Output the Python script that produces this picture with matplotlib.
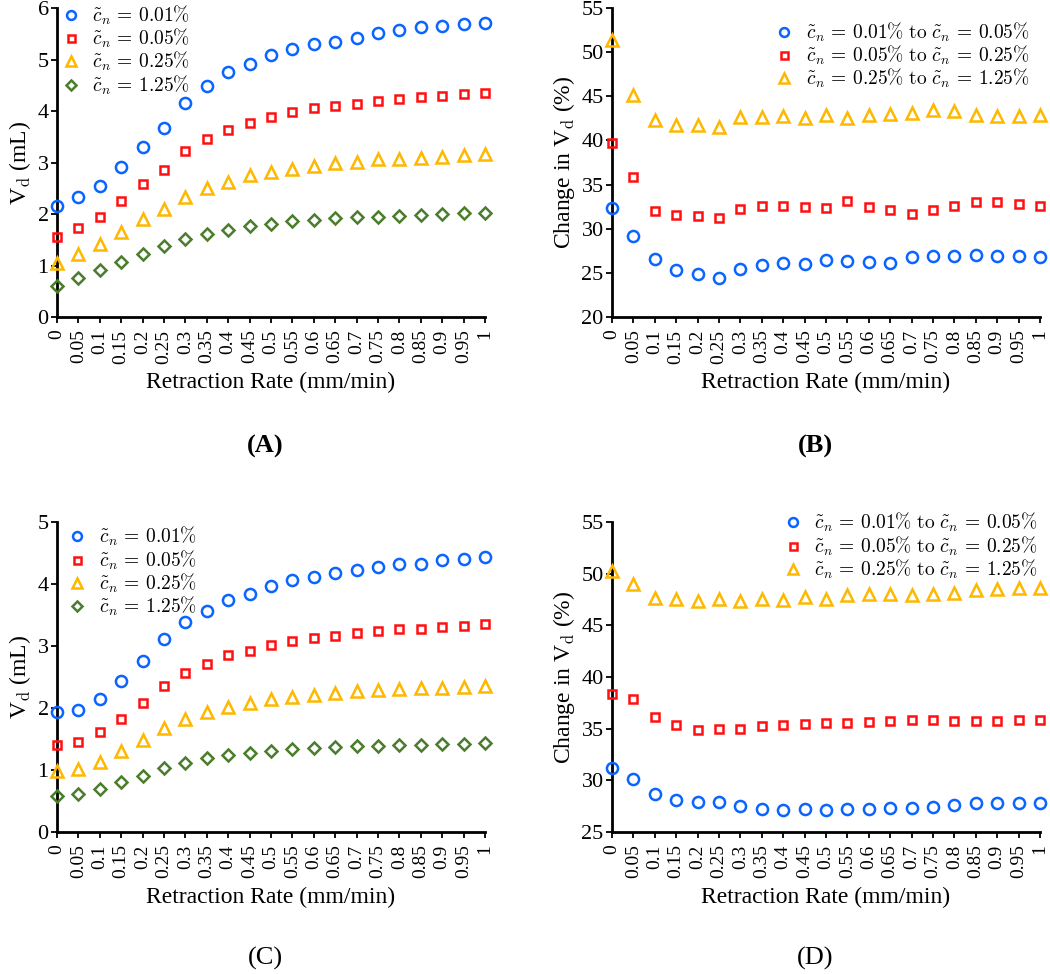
import matplotlib
matplotlib.use("Agg")
import matplotlib.pyplot as plt

plt.rcParams['font.family'] = ['Liberation Serif', 'DejaVu Serif']
plt.rcParams['mathtext.fontset'] = 'cm'

rate = [0, 0.05, 0.1, 0.15, 0.2, 0.25, 0.3, 0.35, 0.4, 0.45, 0.5,
        0.55, 0.6, 0.65, 0.7, 0.75, 0.8, 0.85, 0.9, 0.95, 1]
rate_labels = ['0', '0.05', '0.1', '0.15', '0.2', '0.25', '0.3', '0.35', '0.4', '0.45', '0.5',
               '0.55', '0.6', '0.65', '0.7', '0.75', '0.8', '0.85', '0.9', '0.95', '1']

# Panel A: Vd (mL)
a_001 = [2.16, 2.34, 2.54, 2.91, 3.31, 3.67, 4.16, 4.48, 4.75, 4.91, 5.08,
         5.21, 5.30, 5.35, 5.42, 5.51, 5.57, 5.63, 5.66, 5.69, 5.71]
a_005 = [1.55, 1.73, 1.94, 2.25, 2.58, 2.86, 3.22, 3.45, 3.64, 3.77, 3.88,
         3.99, 4.05, 4.10, 4.13, 4.19, 4.24, 4.28, 4.30, 4.33, 4.35]
a_025 = [1.05, 1.22, 1.42, 1.66, 1.90, 2.10, 2.34, 2.50, 2.63, 2.75, 2.82,
         2.87, 2.94, 2.99, 3.02, 3.06, 3.07, 3.09, 3.11, 3.14, 3.16]
a_125 = [0.61, 0.76, 0.91, 1.07, 1.22, 1.37, 1.51, 1.61, 1.70, 1.77, 1.81,
         1.86, 1.89, 1.92, 1.94, 1.95, 1.97, 1.99, 2.00, 2.02, 2.03]

# Panel B: change in Vd (%)
b_1 = [32.31, 29.14, 26.57, 25.36, 24.83, 24.42, 25.44, 25.85, 26.15, 25.96, 26.46,
       26.30, 26.27, 26.08, 26.76, 26.91, 26.95, 26.98, 26.95, 26.87, 26.83]
b_2 = [39.74, 35.82, 32.04, 31.51, 31.44, 31.21, 32.23, 32.57, 32.57, 32.46, 32.31,
       33.14, 32.42, 32.08, 31.66, 32.12, 32.53, 32.99, 32.99, 32.80, 32.57]
b_3 = [51.41, 45.18, 42.27, 41.74, 41.71, 41.48, 42.61, 42.65, 42.73, 42.50, 42.91,
       42.50, 42.87, 43.02, 43.14, 43.40, 43.29, 42.87, 42.73, 42.80, 42.87]

# Panel C: Vd (mL)
c_001 = [1.93, 1.97, 2.15, 2.44, 2.75, 3.12, 3.38, 3.56, 3.74, 3.84, 3.97,
         4.06, 4.12, 4.17, 4.23, 4.28, 4.32, 4.33, 4.38, 4.40, 4.44]
c_005 = [1.40, 1.45, 1.61, 1.83, 2.08, 2.35, 2.56, 2.71, 2.85, 2.92, 3.02,
         3.08, 3.13, 3.16, 3.21, 3.24, 3.27, 3.28, 3.31, 3.33, 3.35]
c_025 = [0.98, 1.01, 1.13, 1.31, 1.48, 1.68, 1.83, 1.93, 2.02, 2.08, 2.14,
         2.18, 2.21, 2.24, 2.27, 2.29, 2.31, 2.32, 2.33, 2.34, 2.36]
c_125 = [0.58, 0.61, 0.69, 0.80, 0.91, 1.03, 1.12, 1.19, 1.24, 1.27, 1.31,
         1.34, 1.35, 1.37, 1.38, 1.39, 1.40, 1.40, 1.42, 1.42, 1.44]

# Panel D: change in Vd (%)
d_1 = [31.19, 30.16, 28.66, 28.05, 27.92, 27.95, 27.50, 27.24, 27.14, 27.20, 27.17,
       27.24, 27.20, 27.33, 27.30, 27.46, 27.66, 27.79, 27.76, 27.76, 27.76]
d_2 = [38.39, 37.84, 36.15, 35.31, 34.86, 34.95, 34.92, 35.25, 35.31, 35.41, 35.57,
       35.57, 35.64, 35.77, 35.86, 35.83, 35.70, 35.73, 35.73, 35.80, 35.80]
d_3 = [50.26, 49.00, 47.67, 47.50, 47.34, 47.50, 47.37, 47.54, 47.44, 47.70, 47.57,
       47.89, 48.02, 48.02, 47.92, 48.02, 48.15, 48.41, 48.54, 48.61, 48.61]

labels_conc = [r'$\tilde{c}_n\,=\,0.01\%$', r'$\tilde{c}_n\,=\,0.05\%$',
               r'$\tilde{c}_n\,=\,0.25\%$', r'$\tilde{c}_n\,=\,1.25\%$']
labels_change = [r'$\tilde{c}_n\,=\,0.01\%\ \mathrm{to}\ \tilde{c}_n\,=\,0.05\%$',
                 r'$\tilde{c}_n\,=\,0.05\%\ \mathrm{to}\ \tilde{c}_n\,=\,0.25\%$',
                 r'$\tilde{c}_n\,=\,0.25\%\ \mathrm{to}\ \tilde{c}_n\,=\,1.25\%$']

BLUE = '#0a64ff'
RED = '#ff1010'
YEL = '#ffb800'
GRN = '#4a7d2c'
styles = [dict(marker='o', color=BLUE, ms=8.0),
          dict(marker='s', color=RED, ms=6.3),
          dict(marker='^', color=YEL, ms=9.0),
          dict(marker='D', color=GRN, ms=6.6)]

fig = plt.figure(figsize=(10.5, 9.74), dpi=100)

def style_axes(ax, ylim, yticks, ylabel):
    ax.set_xlim(0, 1)
    ax.set_ylim(*ylim)
    ax.set_xticks(rate)
    ax.set_xticklabels(rate_labels, rotation=90, fontsize=14)
    ax.set_yticks(yticks)
    ax.tick_params(axis='y', labelsize=16, direction='out', length=4, width=1.3, pad=2)
    ax.tick_params(axis='x', direction='out', length=4, width=1.3, pad=5)
    for s in ['top', 'right']:
        ax.spines[s].set_visible(False)
    for s in ['left', 'bottom']:
        ax.spines[s].set_linewidth(2.0)
        ax.spines[s].set_zorder(0.5)
    ax.set_xlabel('Retraction Rate (mm/min)', fontsize=17, labelpad=6)
    ax.set_ylabel(ylabel, fontsize=17, labelpad=3)

def draw(ax, series, labels):
    for ys, lab, st in zip(series, labels, styles):
        ax.plot(rate, ys, linestyle='none', marker=st['marker'], ms=st['ms'],
                markerfacecolor='none', markeredgecolor=st['color'],
                markeredgewidth=1.8, label=lab, clip_on=False, zorder=3)

leg_kw = dict(frameon=False, fontsize=14, handlelength=1.0, handletextpad=0.6,
              labelspacing=0.0, borderaxespad=0.0, borderpad=0.0, markerscale=0.8)

axA = fig.add_axes([0.0543, 0.6745, 0.4076, 0.3172])
draw(axA, [a_001, a_005, a_025, a_125], labels_conc)
style_axes(axA, (0, 6), range(0, 7), r'V$_\mathrm{d}$ (mL)')
axA.legend(loc='upper left', bbox_to_anchor=(0.01, 1.015), **leg_kw)

axB = fig.add_axes([0.5829, 0.6745, 0.4076, 0.3172])
draw(axB, [b_1, b_2, b_3], labels_change)
style_axes(axB, (20, 55), range(20, 56, 5), r'Change in V$_\mathrm{d}$ (%)')
axB.legend(loc='upper right', bbox_to_anchor=(0.975, 0.96), **leg_kw)

axC = fig.add_axes([0.0543, 0.1458, 0.4076, 0.3183])
draw(axC, [c_001, c_005, c_025, c_125], labels_conc)
style_axes(axC, (0, 5), range(0, 6), r'V$_\mathrm{d}$ (mL)')
axC.legend(loc='upper left', bbox_to_anchor=(0.025, 0.99), **leg_kw)

axD = fig.add_axes([0.5829, 0.1458, 0.4076, 0.3183])
draw(axD, [d_1, d_2, d_3], labels_change)
style_axes(axD, (25, 55), range(25, 56, 5), r'Change in V$_\mathrm{d}$ (%)')
axD.legend(loc='upper right', bbox_to_anchor=(0.995, 1.035), **leg_kw)

fig.text(265 / 1050, 1 - 446 / 974, '(A)', ha='center', va='center', fontsize=19, fontweight='bold')
fig.text(815 / 1050, 1 - 446 / 974, '(B)', ha='center', va='center', fontsize=19, fontweight='bold')
fig.text(265 / 1050, 1 - 958 / 974, '(C)', ha='center', va='center', fontsize=19)
fig.text(815 / 1050, 1 - 958 / 974, '(D)', ha='center', va='center', fontsize=19)

fig.savefig('out.png', dpi=100)
